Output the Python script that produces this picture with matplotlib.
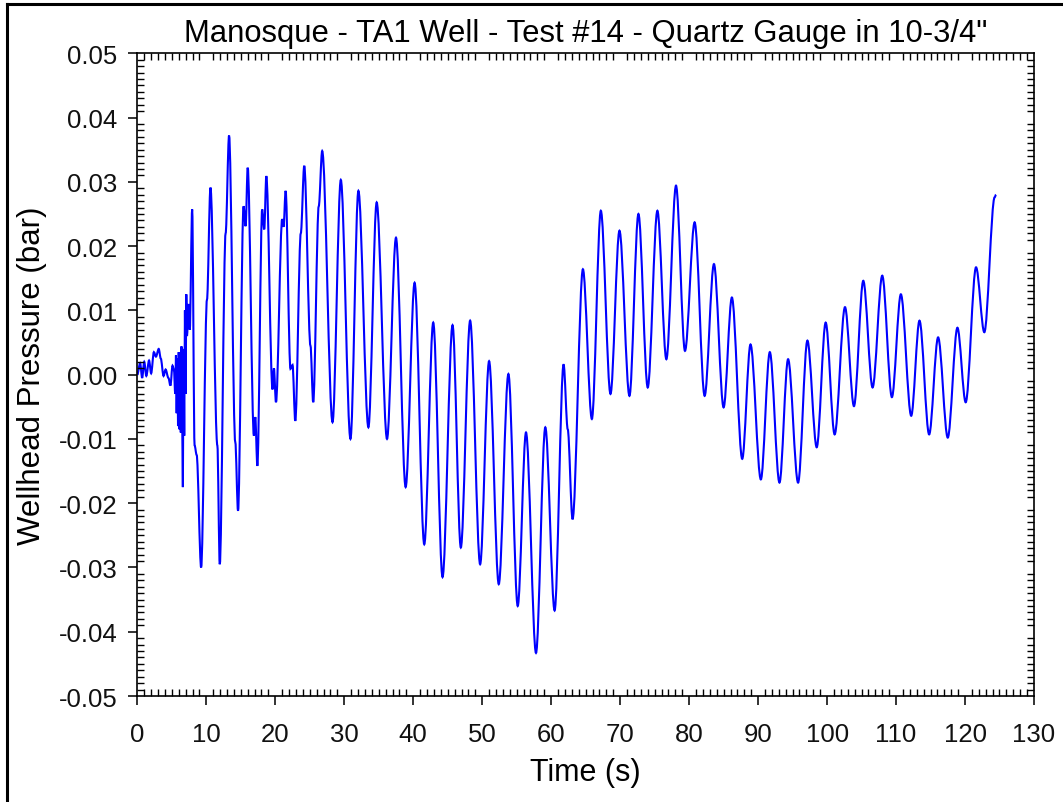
import matplotlib
matplotlib.use("Agg")
import matplotlib.pyplot as plt
from matplotlib.ticker import MultipleLocator, FuncFormatter
from matplotlib.lines import Line2D
from matplotlib.path import Path
from matplotlib.patches import PathPatch

plt.rcParams['font.family'] = ['Liberation Sans', 'DejaVu Sans']

# peaks / troughs (time s, pressure bar)
time_s = [0.0, 0.4, 0.7, 1.0, 1.3, 1.7, 2.0, 2.4, 2.7, 3.1, 3.4, 3.8, 4.1, 4.5, 4.8, 5.1,
          5.3, 5.5, 5.6, 5.7, 5.8, 5.9, 6.0, 6.1, 6.2, 6.3, 6.4, 6.5, 6.6, 6.7, 6.8, 6.9,
          7.0, 7.1, 7.2, 7.4, 7.6, 7.95, 8.3, 8.6, 9.25, 10.1, 10.6, 11.6, 11.95, 12.8,
          13.3, 14.2, 14.6, 15.4, 15.7, 16.0, 16.9, 17.1, 17.4, 18.1, 18.4, 18.7, 19.6,
          19.8, 20.1, 21.0, 21.2, 21.5, 22.2, 22.5, 22.9, 23.7, 24.2, 25.1, 25.5, 26.3,
          26.8, 28.3, 29.5, 30.9, 32.05, 33.5, 34.7, 36.2, 37.5, 38.9, 40.2, 41.6, 42.9,
          44.25, 45.7, 46.9, 48.25, 49.7, 51.0, 52.4, 53.8, 55.15, 56.35, 57.8, 59.15,
          60.5, 61.8, 62.4, 63.1, 64.6, 65.9, 67.2, 68.6, 69.9, 71.35, 72.65, 74.0, 75.4,
          76.7, 78.1, 79.4, 80.8, 82.25, 83.6, 85.0, 86.2, 87.7, 88.9, 90.4, 91.7, 93.1,
          94.35, 95.8, 97.15, 98.5, 99.8, 101.1, 102.6, 103.9, 105.25, 106.6, 108.0,
          109.4, 110.7, 112.2, 113.4, 114.8, 116.1, 117.5, 118.9, 120.1, 121.6, 122.8,
          124.3, 124.5]
pressure_bar = [0.0, 0.0018, -0.0005, 0.0020, -0.0002, 0.0022, 0.0002, 0.0035, 0.0028,
                0.0040, 0.0025, -0.0002, 0.0008, -0.0005, -0.0017, 0.0014,
                0.0008, -0.0030, 0.0030, -0.0060, 0.0025, -0.0080, 0.0035, -0.0085,
                0.0010, -0.0090, 0.0044, -0.0070, -0.0175, 0.0040, -0.0095, 0.0100,
                -0.0030, 0.0125, 0.0060, 0.0110, 0.0070, 0.0257, -0.0110, -0.0125,
                -0.0300, 0.0117, 0.0291, -0.0110, -0.0295, 0.0220,
                0.0372, -0.0105, -0.0212, 0.0262, 0.0231, 0.0322, -0.0095, -0.0066,
                -0.0142, 0.0257, 0.0226, 0.0309, -0.0023,
                0.0010, -0.0043, 0.0242, 0.0230, 0.0286, 0.0009, 0.0015, -0.0072, 0.0220,
                0.0325, 0.0045, -0.0043, 0.0262,
                0.0348, -0.0074, 0.0303, -0.0100, 0.0286, -0.0082, 0.0268, -0.0100, 0.0213,
                -0.0175, 0.0143, -0.0264, 0.0081,
                -0.0315, 0.0077, -0.0269, 0.0084, -0.0295, 0.0021, -0.0326, 0.0001,
                -0.0360, -0.0090, -0.0433, -0.0082,
                -0.0367, 0.0016, -0.0085, -0.0225, 0.0164, -0.0069, 0.0255, -0.0030,
                0.0224, -0.0033, 0.0250, -0.0020, 0.0255,
                0.0024, 0.0294, 0.0037, 0.0237, -0.0033, 0.0172, -0.0051, 0.0120, -0.0131,
                0.0047, -0.0163, 0.0035, -0.0168,
                0.0024, -0.0168, 0.0053, -0.0113, 0.0081, -0.0093, 0.0105, -0.0049,
                0.0146, -0.0020, 0.0154,
                -0.0035, 0.0125, -0.0064, 0.0084, -0.0093, 0.0058, -0.0098, 0.0073,
                -0.0043, 0.0167, 0.0066,
                0.0276, 0.0280]

fig = plt.figure(figsize=(10.63, 8.03), dpi=100)
ax = fig.add_axes([0.1292, 0.132, 0.8435, 0.8004])

# smooth trace: cubic segments with flat tangents at each read-off extremum
verts = [(time_s[0], pressure_bar[0])]
codes = [Path.MOVETO]
for i in range(1, len(time_s)):
    t0, v0 = time_s[i - 1], pressure_bar[i - 1]
    t1, v1 = time_s[i], pressure_bar[i]
    dt = (t1 - t0) / 3
    verts += [(t0 + dt, v0), (t1 - dt, v1), (t1, v1)]
    codes += [Path.CURVE4] * 3
ax.add_patch(PathPatch(Path(verts, codes), fill=False, edgecolor='#0000ff', lw=1.5))

ax.set_xlim(0, 130)
ax.set_ylim(-0.05, 0.05)
ax.xaxis.set_major_locator(MultipleLocator(10))
ax.xaxis.set_minor_locator(MultipleLocator(1))
ax.yaxis.set_major_locator(MultipleLocator(0.01))
ax.yaxis.set_minor_locator(MultipleLocator(0.001))
ax.yaxis.set_major_formatter(FuncFormatter(lambda v, p: f'{v:.2f}' if abs(v) > 1e-9 else '0.00'))

ax.tick_params(which='major', direction='out', length=6.5, width=1.2,
               labelsize=18.5, top=False, right=False, colors='#111111')
ax.tick_params(axis='x', which='major', pad=12)
ax.tick_params(axis='y', which='major', pad=8)
ax.tick_params(which='minor', direction='in', length=5, width=1.0,
               top=True, right=True, bottom=True, left=True)
for s in ax.spines.values():
    s.set_linewidth(1.2)

ax.set_title('Manosque - TA1 Well - Test #14 - Quartz Gauge in 10-3/4"',
             fontsize=22.3, pad=8.5)
ax.set_xlabel('Time (s)', fontsize=22, labelpad=8)
ax.set_ylabel('Wellhead Pressure (bar)', fontsize=22.5, labelpad=8)

# cropped frame around the figure: only left and top edges visible
fig.add_artist(Line2D([7 / 1063, 7 / 1063], [0, 1 - 5 / 803], color='black', lw=2.2,
                      transform=fig.transFigure))
fig.add_artist(Line2D([7 / 1063, 1], [1 - 5 / 803, 1 - 5 / 803], color='black', lw=2.2,
                      transform=fig.transFigure))

fig.savefig('out.png', dpi=100)
